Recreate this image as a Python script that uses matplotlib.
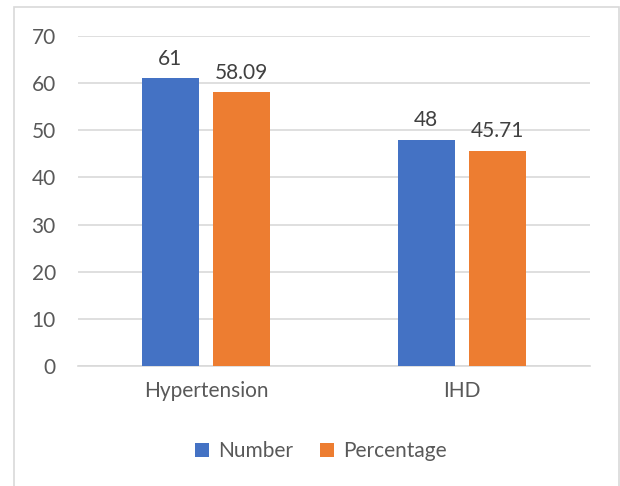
import numpy as np
import matplotlib.pyplot as plt
from matplotlib.patches import Rectangle

categories = ["Hypertension", "IHD"]
number = [61, 48]
percentage = [58.09, 45.71]
number_labels = ["61", "48"]
percentage_labels = ["58.09", "45.71"]

blue = "#4472C4"
orange = "#ED7D31"
grey = "#595959"

plt.rcParams['font.family'] = ['Lato', 'DejaVu Sans']

fig = plt.figure(figsize=(6.2, 4.86), dpi=100)
# outer chart frame (bottom edge falls outside the canvas)
fig.add_artist(Rectangle((14 / 620, -0.05), (619 - 14) / 620, (486 - 7) / 486 + 0.05,
                         transform=fig.transFigure, fill=False,
                         edgecolor="#D9D9D9", linewidth=1.2))

ax = fig.add_axes([78 / 620, 1 - 366 / 486, (590 - 78) / 620, (366 - 36) / 486])

x = np.arange(len(categories))
w = 0.222
gap = 0.058
b1 = ax.bar(x - (w + gap) / 2, number, w, color=blue, label="Number", zorder=3)
b2 = ax.bar(x + (w + gap) / 2, percentage, w, color=orange, label="Percentage", zorder=3)

for bars, labels in ((b1, number_labels), (b2, percentage_labels)):
    for rect, lab in zip(bars, labels):
        ax.text(rect.get_x() + rect.get_width() / 2, rect.get_height() + 2.0, lab,
                ha="center", va="bottom", fontsize=15, color="#404040")

ax.set_xlim(-0.5, 1.5)
ax.set_ylim(0, 70)
ax.set_yticks(range(0, 71, 10))
ax.set_xticks(x)
ax.set_xticklabels(categories)
ax.yaxis.grid(True, color="#D9D9D9", linewidth=1.2, zorder=0)
for s in ["top", "right", "left"]:
    ax.spines[s].set_visible(False)
ax.spines["bottom"].set_color("#D9D9D9")
ax.spines["bottom"].set_linewidth(1.2)
ax.tick_params(axis="both", length=0, labelsize=15, colors=grey)
ax.tick_params(axis="y", pad=16)
ax.tick_params(axis="x", pad=11)

fig.legend(handles=[b1, b2], loc="center", bbox_to_anchor=(321 / 620, 1 - 451 / 486),
           ncol=2, frameon=False, fontsize=15, labelcolor=grey,
           handlelength=0.65, handleheight=0.65, handletextpad=0.45, columnspacing=1.3)

fig.savefig("out.png", dpi=100)
